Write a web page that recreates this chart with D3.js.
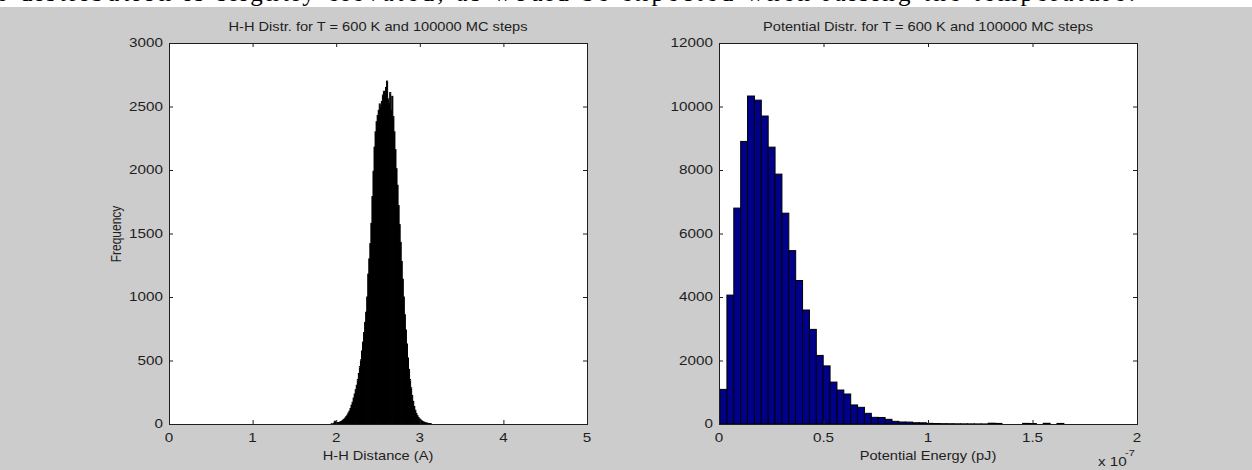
<!DOCTYPE html>
<html><head><meta charset="utf-8">
<script src="https://cdn.jsdelivr.net/npm/d3@7"></script>
<style>html,body{margin:0;padding:0;background:#fff;} svg{display:block;}</style>
</head><body>
<svg id="fig" width="1252" height="470"></svg>
<script>
// H-H distance histogram (Angstrom), fixed-width bins
const hhStart = 1.94, hhWidth = 0.0125;
const hhCounts = [
  2, 0, 6, 22, 14, 8, 11, 9, 15, 19,
  24, 31, 38, 47, 58, 70, 86, 101, 122, 148,
  171, 204, 236, 270, 305, 350, 398, 452, 505, 575,
  645, 720, 800, 880, 1000, 1180, 1300, 1420, 1580, 1790,
  1990, 2180, 2300, 2380, 2430, 2470, 2520, 2490, 2540, 2590,
  2620, 2560, 2650, 2700, 2560, 2520, 2610, 2470, 2580, 2420,
  2300, 2160, 2010, 1880, 1720, 1570, 1430, 1280, 1140, 1000,
  860, 740, 630, 520, 430, 350, 285, 225, 178, 138,
  108, 84, 66, 52, 41, 33, 26, 20, 16, 12,
  9, 7, 5, 3, 2, 1
];
// Potential energy histogram (units of 1e-7 pJ), 50 bins
const peStart = 0.005, peWidth = 0.0329;
const peCounts = [
  1090, 4060, 6800, 8900, 10330, 10200, 9700, 8720, 7870, 6640,
  5460, 4520, 3590, 2980, 2160, 1830, 1320, 1070, 945, 600,
  525, 336, 210, 205, 147, 84, 63, 60, 40, 38,
  20, 15, 10, 8, 6, 5, 4, 3, 2, 25,
  18, 0, 0, 0, 20, 15, 0, 22, 0, 18
];
const hhXTicks = [0, 1, 2, 3, 4, 5];
const hhYTicks = [0, 500, 1000, 1500, 2000, 2500, 3000];
const peXTicks = [0, 0.5, 1, 1.5, 2];
const peYTicks = [0, 2000, 4000, 6000, 8000, 10000, 12000];
const hhTitle = "H-H Distr. for T = 600 K and 100000 MC steps";
const peTitle = "Potential Distr. for T = 600 K and 100000 MC steps";
const hhXLabel = "H-H Distance (A)";
const peXLabel = "Potential Energy (pJ)";
const yLabel = "Frequency";
const bodyLine = "the distribution is slightly elevated, as would be expected when raising the temperature.";

const svg = d3.select('#fig');
const SX = 1.22;           // horizontal stretch of the figure text
const FONT = "'Liberation Sans', Arial, Helvetica, sans-serif";
const INK = '#1e1e1e';

// running text of the page just above the figure
svg.append('text')
  .attr('x', -30).attr('y', 0.5)
  .attr('textLength', 1165).attr('lengthAdjust', 'spacing')
  .style('font-family', "'Liberation Serif', 'Times New Roman', serif")
  .style('font-size', '25px').attr('fill', '#000')
  .text(bodyLine);

// figure background
svg.append('rect').attr('x', 0).attr('y', 7).attr('width', 1252).attr('height', 463).attr('fill', '#cccccc');

function label(g, x, y, str, anchor, size, rot) {
  return g.append('text')
    .attr('transform', `translate(${x},${y}) scale(${SX},1)` + (rot ? ` rotate(${rot})` : ''))
    .attr('text-anchor', anchor)
    .style('font-family', FONT).style('font-size', size + 'px')
    .attr('fill', INK).text(str);
}

function panel(cfg) {
  const {left, right, top, bottom} = cfg;
  const x = d3.scaleLinear().domain(cfg.xDomain).range([left, right]);
  const y = d3.scaleLinear().domain(cfg.yDomain).range([bottom, top]);
  const g = svg.append('g');

  g.append('rect').attr('x', left).attr('y', top).attr('width', right - left).attr('height', bottom - top).attr('fill', '#fff');

  const clipId = 'clip-' + cfg.id;
  svg.append('clipPath').attr('id', clipId).append('rect')
    .attr('x', left).attr('y', top - 1).attr('width', right - left).attr('height', bottom - top + 1);

  g.append('g').attr('clip-path', `url(#${clipId})`)
    .selectAll('rect').data(cfg.counts).join('rect')
    .attr('x', (d, i) => x(cfg.start + i * cfg.width))
    .attr('width', (d, i) => x(cfg.start + (i + 1) * cfg.width) - x(cfg.start + i * cfg.width))
    .attr('y', d => y(d))
    .attr('height', d => y(0) - y(d))
    .attr('fill', cfg.fill).attr('stroke', '#000').attr('stroke-width', cfg.strokeW);

  const tl = 4;
  // bottom/top axes with inward ticks
  const xb = g.append('g').attr('transform', `translate(0,${bottom})`)
    .call(d3.axisBottom(x).tickValues(cfg.xTicks).tickSize(-tl));
  const xt = g.append('g').attr('transform', `translate(0,${top})`)
    .call(d3.axisTop(x).tickValues(cfg.xTicks).tickSize(-tl));
  const yl = g.append('g').attr('transform', `translate(${left},0)`)
    .call(d3.axisLeft(y).tickValues(cfg.yTicks).tickSize(-tl));
  const yr = g.append('g').attr('transform', `translate(${right},0)`)
    .call(d3.axisRight(y).tickValues(cfg.yTicks).tickSize(-tl));
  [xb, xt, yl, yr].forEach(a => {
    a.select('.domain').attr('stroke', INK).attr('stroke-width', 1);
    a.selectAll('.tick line').attr('stroke', INK);
    a.selectAll('text').remove();
  });
  // tick labels, stretched like the rest of the figure text
  cfg.xTicks.forEach(t => label(g, x(t), bottom + 17.5, d3.format('~g')(t), 'middle', 12.5));
  cfg.yTicks.forEach(t => label(g, left - 6, y(t) + 4.4, d3.format('d')(t), 'end', 12.5));

  label(g, (left + right) / 2, 31, cfg.title, 'middle', 12);
  label(g, (left + right) / 2, 460, cfg.xLabel, 'middle', 12);
  return {g, x, y};
}

const L = panel({
  id: 'hh', left: 169, right: 587, top: 43, bottom: 424,
  xDomain: [0, 5], yDomain: [0, 3000],
  start: hhStart, width: hhWidth, counts: hhCounts,
  fill: '#000', strokeW: 1,
  xTicks: hhXTicks, yTicks: hhYTicks,
  title: hhTitle, xLabel: hhXLabel
});
label(L.g, 121, 234, yLabel, 'middle', 12, -90);

const R = panel({
  id: 'pe', left: 719, right: 1137, top: 43, bottom: 424,
  xDomain: [0, 2], yDomain: [0, 12000],
  start: peStart, width: peWidth, counts: peCounts,
  fill: '#00008b', strokeW: 1,
  xTicks: peXTicks, yTicks: peYTicks,
  title: peTitle, xLabel: peXLabel
});
// axis multiplier
label(R.g, 1098, 466, 'x 10', 'start', 12.5);
label(R.g, 1125, 456, '-7', 'start', 9);
</script>
</body></html>
